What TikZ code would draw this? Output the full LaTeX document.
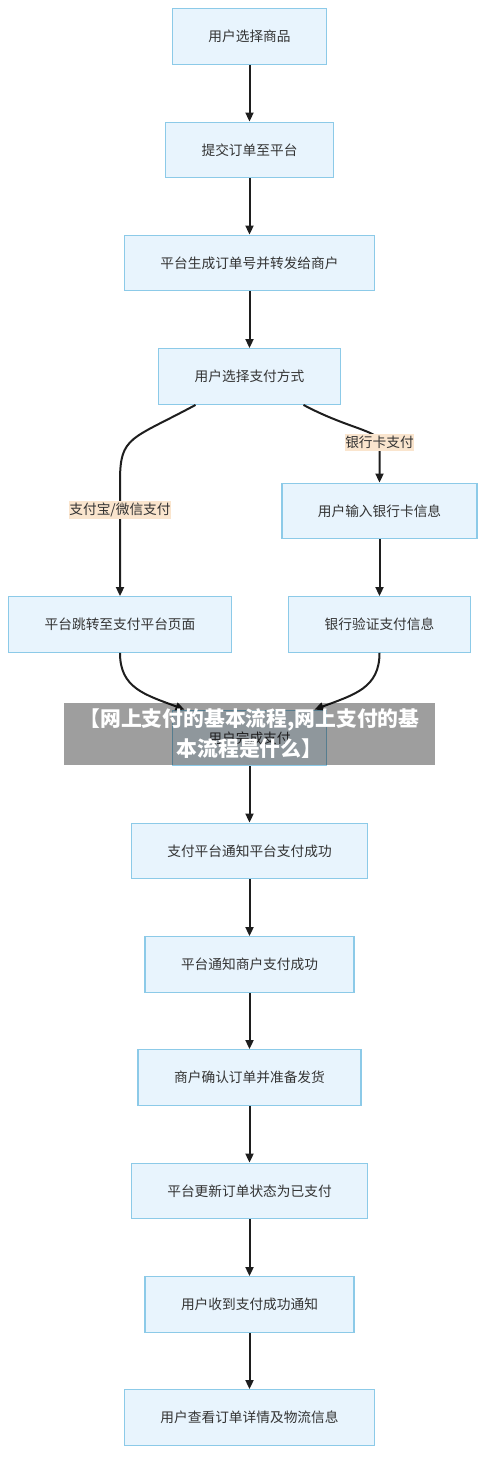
\documentclass[tikz,border=0pt]{standalone}
\usepackage{fontspec}
\setmainfont{Noto Sans CJK SC}
\usetikzlibrary{arrows.meta,calc}
\definecolor{boxFill}{RGB}{232,244,253}
\definecolor{boxLine}{RGB}{140,202,232}
\definecolor{tagFill}{RGB}{250,229,206}
\definecolor{inkGray}{RGB}{51,51,51}
\definecolor{arrowInk}{RGB}{30,30,30}
\begin{document}
\begin{tikzpicture}
[x=1pt,y=-1pt,
  darkArrow/.style={->,>={Stealth[inset=0pt,length=9pt,width=8pt]},line width=2pt,color=arrowInk},%
  stepBox/.style={rectangle,draw=boxLine,fill=boxFill,line width=1.4pt,
    minimum height=55.5pt,inner xsep=36pt,text=inkGray,font=\fontsize{13.7}{16}\selectfont},%
  pathLabel/.style={fill=tagFill,text=inkGray,inner xsep=0.5pt,inner ysep=2pt,
    font=\fontsize{13.7}{16}\selectfont},%
  titleBanner/.style={fill=black,fill opacity=0.38,text opacity=1,text=white,
    minimum width=371pt,minimum height=62pt,align=center,
    font=\bfseries\fontsize{20.8}{30}\selectfont}]
\useasboundingbox (0,0) rectangle (500,1469);
%% nodes or vertices
\foreach \nodename/\x/\y/\txt in {
  pick/249.5/36.5/用户选择商品, submit/249.5/150/提交订单至平台,
  create/249.5/263/平台生成订单号并转发给商户, method/249.5/376.5/用户选择支付方式,
  cardin/379.5/511/用户输入银行卡信息, jump/120/624.5/平台跳转至支付平台页面,
  verify/379.5/624.5/银行验证支付信息, done/249.5/738/用户完成支付,
  psnotify/249.5/851/支付平台通知平台支付成功, mnotify/249.5/964.5/平台通知商户支付成功,
  confirm/249.5/1077.5/商户确认订单并准备发货, update/249.5/1191/平台更新订单状态为已支付,
  receive/249.5/1304.5/用户收到支付成功通知, view/249.5/1417.5/用户查看订单详情及物流信息}
{
  \node (\nodename) at (\x,\y) [stepBox] {\txt};
}
%% straight edges
\path
\foreach \startnode/\endnode in {pick/submit, submit/create, create/method,
  cardin/verify, done/psnotify, psnotify/mnotify, mnotify/confirm,
  confirm/update, update/receive, receive/view}
{
  (\startnode) edge[darkArrow] node {} (\endnode)
};
%% branches and merges
\draw[darkArrow] ([xshift=-54pt]method.south) .. controls +(-65,35) and +(0,-45) ..
  ($(jump.north)+(0,-115)$) -- node[pathLabel,pos=0.25] {支付宝/微信支付} (jump.north);
\draw[darkArrow] ([xshift=54pt]method.south) .. controls +(45,24) and +(0,-12) ..
  ($(cardin.north)+(0,-40)$) node[pathLabel] {银行卡支付} -- (cardin.north);
\draw[darkArrow] (jump.south) .. controls +(0,35) and +(-40,-15) .. ([xshift=-65pt]done.north);
\draw[darkArrow] (verify.south) .. controls +(0,35) and +(40,-15) .. ([xshift=65pt]done.north);
%% overlay title
\node (banner) at (249.5,734) [titleBanner] {【网上支付的基本流程,网上支付的基\\本流程是什么】};
\end{tikzpicture}
\end{document}
